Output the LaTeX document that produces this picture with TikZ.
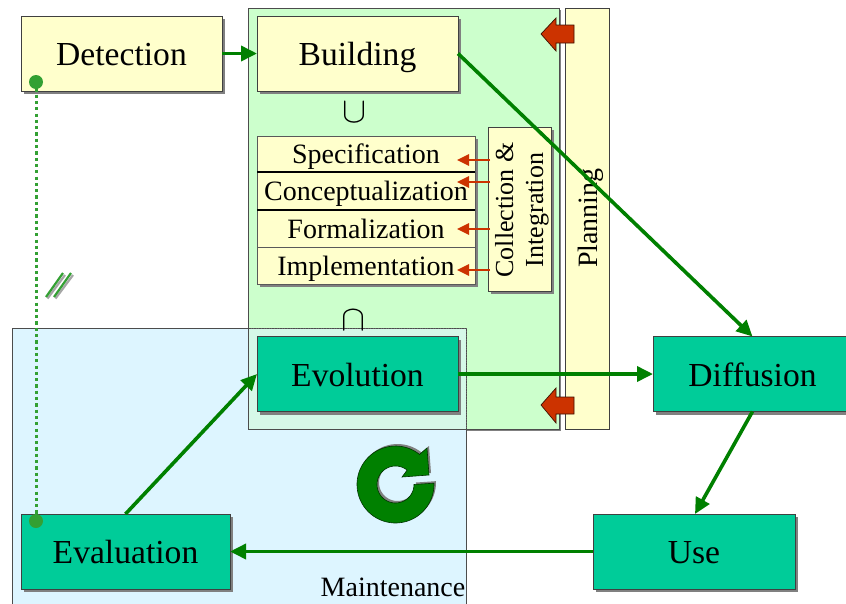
\documentclass[tikz,border=0pt]{standalone}
\usepackage{fontspec}
\setmainfont{Liberation Serif}
\usetikzlibrary{shadows,arrows.meta}
\definecolor{paleyellow}{HTML}{FFFFCC}
\definecolor{teal1}{HTML}{00CC99}
\definecolor{palegreen}{HTML}{CCFFCC}
\definecolor{paleblue}{HTML}{DDF5FF}
\definecolor{overlap}{HTML}{D6F8E8}
\definecolor{arrowgreen}{HTML}{008000}
\definecolor{dotgreen}{HTML}{33A033}
\definecolor{redarrow}{HTML}{CC3300}
\definecolor{shadowgray}{HTML}{808080}
\tikzset{
  shad/.style={general shadow={fill=shadowgray, shadow xshift=3pt, shadow yshift=-3pt}},
  base/.style={draw=black!75, line width=1pt, inner sep=0pt, outer sep=0pt, align=center},
  ybox/.style={base, shad, fill=paleyellow, minimum width=#1, minimum height=75pt, text height=24pt, text depth=0pt, font=\fontsize{33.6}{36}\selectfont},
  tbox/.style={base, shad, fill=teal1, minimum width=#1, minimum height=75pt, text height=24pt, text depth=0pt, font=\fontsize{33.6}{36}\selectfont},
  stackbox/.style={draw=black!65, line width=0.7pt, fill=paleyellow, inner sep=0pt, outer sep=0pt, minimum width=218pt, minimum height=#1, text height=19pt, text depth=0pt, font=\fontsize{28}{30}\selectfont},
  flow/.style={draw=arrowgreen, line width=3.6pt, -{Triangle[length=16pt,width=15pt]}},
  redsmall/.style={draw=redarrow, line width=1.7pt, -{Triangle[length=12pt,width=11.5pt]}},
  dotline/.style={draw=dotgreen, line width=3pt, dash pattern=on 3.2pt off 3.1pt},
  bigred/.style={fill=redarrow, draw=black!70!redarrow, line width=0.7pt},
  planel/.style={inner sep=0pt, outer sep=0pt}
}
\begin{document}
\begin{tikzpicture}[x=1pt,y=-1pt]
\clip (0,0) rectangle (846,603);
\useasboundingbox (0,0) rectangle (846,603);
\fill[white] (0,0) rectangle (846,603);
% panels
\fill[shadowgray] (250,10) rectangle (561,431);
\draw[fill=palegreen, draw=black!70, line width=0.7pt] (248,8) rectangle (559,429);
\draw[fill=paleblue, draw=black!70, line width=0.7pt] (12,328) rectangle (466,610);
\fill[overlap] (248.5,328.5) rectangle (465.5,428.5);
\draw[black!60, line width=0.6pt, dotted] (248,328) -- (466,328) -- (466,429);
\draw[black!70, line width=0.7pt] (248,328) -- (248,429) -- (466,429);
\node[base, line width=0.7pt, fill=paleyellow, minimum width=44pt, minimum height=421pt] (planning) at (587,218.5) {};
\node[planel, rotate=90, font=\fontsize{28}{30}\selectfont] (planningtext) at (591,218) {Planning};
% big red arrows
\draw[bigred] (541,34) -- (556,18) -- (556,25) -- (574,25) -- (574,43) -- (556,43) -- (556,51) -- cycle;
\draw[bigred] (541,405) -- (556,388) -- (556,397) -- (574,397) -- (574,414) -- (556,414) -- (556,423) -- cycle;
% main boxes
\node[ybox=201pt] (detection) at (121.5,53.5) {Detection};
\node[ybox=201pt] (building) at (357.5,53.5) {Building};
\node[tbox=201pt] (evolution) at (357.5,374) {Evolution};
\node[tbox=199pt] (diffusion) at (752.5,374) {Diffusion};
\node[tbox=202pt] (use) at (694,551.5) {Use};
\node[tbox=209pt] (evaluation) at (125.5,551.5) {Evaluation};
% stack
\fill[shadowgray] (260,139) rectangle (478,287);
\node[stackbox=36pt] (spec) at (366,154) {Specification};
\node[stackbox=38pt] (concept) at (366,191) {Conceptualization};
\node[stackbox=37pt] (formal) at (366,228.5) {Formalization};
\node[stackbox=37pt] (impl) at (366,265.5) {Implementation};
\draw[black, line width=1.6pt] (spec.south west) -- (spec.south east);
\draw[black, line width=1.6pt] (concept.south west) -- (concept.south east);
\node[base, shad, line width=0.8pt, fill=paleyellow, minimum width=63pt, minimum height=164pt] (collect) at (519.5,209) {};
\node[planel, rotate=90, align=center, font=\fontsize{26}{30}\selectfont] (collecttext) at (522,210) {Collection \&\\Integration};
% cup / cap
\node[planel, scale=3.6, transform shape] (cupsym) at (354,112) {$\cup$};
\node[planel, scale=3.6, transform shape] (capsym) at (353,320) {$\cap$};
% small red arrows
\coordinate (c1) at (490,160); \coordinate (t1) at (457,160);
\coordinate (c2) at (490,182); \coordinate (t2) at (457,182);
\coordinate (c3) at (490,229); \coordinate (t3) at (457,229);
\coordinate (c4) at (490,270); \coordinate (t4) at (457,270);
\draw[redsmall] (c1) -- (t1);
\draw[redsmall] (c2) -- (t2);
\draw[redsmall] (c3) -- (t3);
\draw[redsmall] (c4) -- (t4);
% dotted link
\coordinate (dotA) at (36,82);
\coordinate (dotB) at (36,521);
\draw[dotline] (dotA) -- (dotB);
\fill[dotgreen] (dotA) circle (7pt);
\fill[dotgreen] (dotB) circle (7pt);
% slashes
\draw[shadowgray!70, line width=2.2pt] (47.5,298.5) -- (65,275);
\draw[shadowgray!70, line width=2.2pt] (55.5,298.5) -- (73,275);
\draw[dotgreen, line width=2.2pt] (46,297) -- (63,273);
\draw[dotgreen, line width=2.2pt] (54,297) -- (71,273);
% flows
\draw[flow] (detection.east) -- (building.west);
\draw[flow] (evolution.east) -- (diffusion.west);
\draw[flow] (building.east) -- (diffusion.north);
\draw[flow] (diffusion.south) -- ([xshift=1pt]use.north);
\draw[flow] (use.west) -- (evaluation.east);
\draw[flow] (evaluation.north) -- (evolution.west);
% circular arrow
\fill[shadowgray, shift={(2,-2)}] (420,454) -- plot[domain=-51:-362,samples=60] ({395.5+38.5*cos(\x)},{484.5+38.5*sin(\x)}) -- plot[domain=-360:-51,samples=60] ({395.5+18.5*cos(\x)},{484.5+18.5*sin(\x)}) -- (402,477) -- (429,475) -- (427,448) -- cycle;
\draw[fill=arrowgreen, draw=black!60!arrowgreen, line width=0.6pt] (420,454) -- plot[domain=-51:-362,samples=60] ({395.5+38.5*cos(\x)},{484.5+38.5*sin(\x)}) -- plot[domain=-360:-51,samples=60] ({395.5+18.5*cos(\x)},{484.5+18.5*sin(\x)}) -- (402,477) -- (429,475) -- (427,448) -- cycle;
\node[planel, font=\fontsize{28}{30}\selectfont] (maint) at (393,587) {Maintenance};
\end{tikzpicture}
\end{document}
